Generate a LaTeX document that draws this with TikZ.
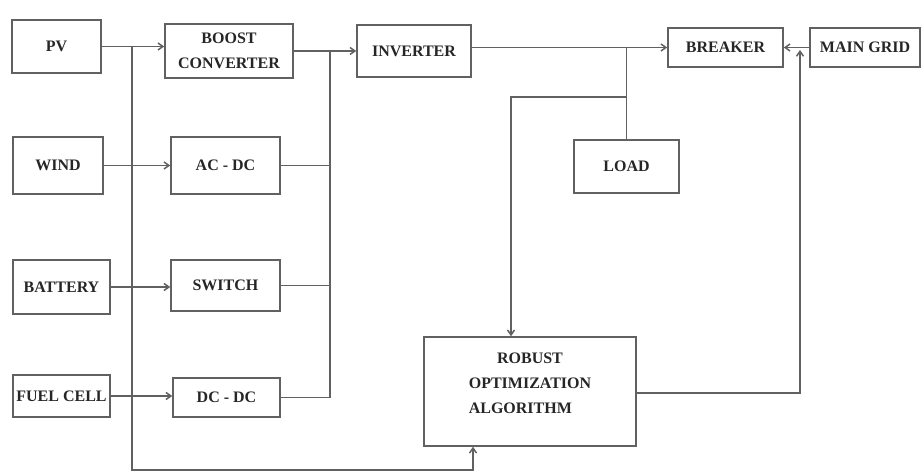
\documentclass[tikz,border=0pt]{standalone}
\usepackage{fontspec}
\setmainfont{Liberation Serif}
\usetikzlibrary{arrows.meta}
\begin{document}
\begin{tikzpicture}[x=1pt,y=-1pt,
  box/.style={draw=black!62, line width=1.5pt, rectangle, inner sep=1pt,
    font=\fontsize{16}{25}\selectfont\bfseries, text=black!85, align=center},
  wire/.style={draw=black!62, line width=1.5pt},
  arr/.style={wire, -{Straight Barb[length=5pt,width=7pt]}}]
\useasboundingbox (0,0) rectangle (922,473);
% sources
\node[box, minimum width=89pt, minimum height=53pt] (PV) at (56.5,46.5) {PV};
\node[box, minimum width=90pt, minimum height=57pt] (WIND) at (58,165.5) {WIND};
\node[box, minimum width=97pt, minimum height=54pt] (BAT) at (61.5,287) {BATTERY};
\node[box, minimum width=97pt, minimum height=42pt] (FC) at (61.5,396) {FUEL CELL};
% converters
\node[box, minimum width=128pt, minimum height=54pt] (BOOST) at (229,51) {BOOST\\CONVERTER};
\node[box, minimum width=109pt, minimum height=57pt] (ACDC) at (225.5,165.5) {AC - DC};
\node[box, minimum width=109pt, minimum height=51pt] (SW) at (225.5,285.5) {SWITCH};
\node[box, minimum width=107pt, minimum height=39pt] (DCDC) at (226.5,397.5) {DC - DC};
% right side
\node[box, minimum width=114pt, minimum height=52pt] (INV) at (414,51) {INVERTER};
\node[box, minimum width=115pt, minimum height=39pt] (BRK) at (725.5,47.5) {BREAKER};
\node[box, minimum width=110pt, minimum height=39pt] (GRID) at (865,47.5) {MAIN GRID};
\node[box, minimum width=105pt, minimum height=53pt] (LOAD) at (626.5,166.5) {LOAD};
\node[box, minimum width=212pt, minimum height=109pt] (ROB) at (530,391.5)
  {\raisebox{8pt}[\height][\depth]{\begin{tabular}{@{}l@{}}\multicolumn{1}{@{}c@{}}{ROBUST}\\OPTIMIZATION\\ALGORITHM\end{tabular}}};
% coordinates
\coordinate (lbtop) at (132,46.5);
\coordinate (lbbot) at (473,470);
\coordinate (rbtop) at (330,51);
\coordinate (rbbot) at (330,397.5);
\coordinate (jn) at (LOAD.north |- BRK.west);
\coordinate (jn2) at (LOAD.north |- 0,97);
\coordinate (robin) at (511,97);
\coordinate (ctrl) at (800,393);
\coordinate (ctrltop) at (800,50);
% sources to converters
\draw[arr] (PV.east) -- (PV.east -| BOOST.west);
\draw[arr] (WIND.east) -- (ACDC.west);
\draw[arr] (BAT.east) -- (BAT.east -| SW.west);
\draw[arr] (FC.east) -- (FC.east -| DCDC.west);
% left measurement bus
\draw[arr] (lbtop) |- (lbbot) -- (lbbot |- ROB.south);
% right DC bus
\draw[wire] (BOOST.east) -- (rbtop) -- (rbbot);
\draw[wire] (ACDC.east) -- (ACDC.east -| rbtop);
\draw[wire] (SW.east) -- (SW.east -| rbtop);
\draw[wire] (DCDC.east) -- (rbbot);
\draw[arr] (rbtop) -- (INV.west);
% AC side
\draw[arr] (INV.east |- BRK.west) -- (BRK.west);
\draw[wire] (jn) -- (LOAD.north);
\draw[arr] (jn2) -- (robin) -- (robin |- ROB.north);
\draw[arr] (GRID.west) -- (BRK.east);
\draw[arr] (ROB.east |- ctrl) -- (ctrl) -- (ctrltop);
\end{tikzpicture}
\end{document}
